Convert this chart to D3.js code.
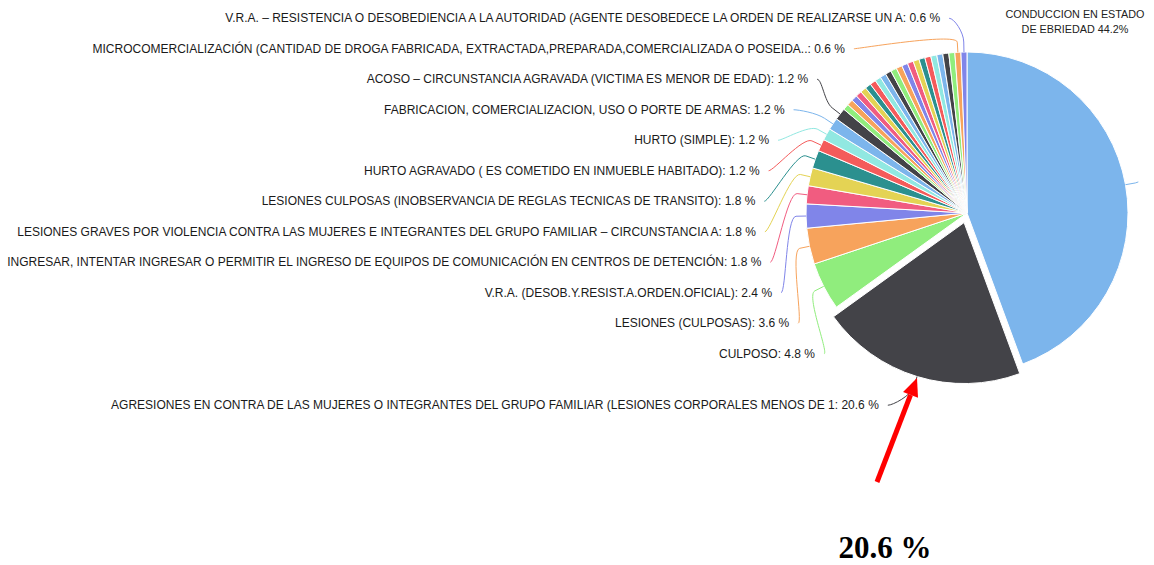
<!DOCTYPE html>
<html>
<head>
<meta charset="utf-8">
<script src="https://cdn.jsdelivr.net/npm/d3@7"></script>
<style>
  body { margin: 0; background: #fff; }
  svg { display: block; }
</style>
</head>
<body>
<svg width="1154" height="565"></svg>
<script>
// slice names, in pie order (clockwise from 12 o'clock); "" = label not shown
var names = [
  "CONDUCCION EN ESTADO DE EBRIEDAD",
  "AGRESIONES EN CONTRA DE LAS MUJERES O INTEGRANTES DEL GRUPO FAMILIAR (LESIONES CORPORALES MENOS DE 1",
  "CULPOSO",
  "LESIONES (CULPOSAS)",
  "V.R.A. (DESOB.Y.RESIST.A.ORDEN.OFICIAL)",
  "INGRESAR, INTENTAR INGRESAR O PERMITIR EL INGRESO DE EQUIPOS DE COMUNICACIÓN EN CENTROS DE DETENCIÓN",
  "LESIONES GRAVES POR VIOLENCIA CONTRA LAS MUJERES E INTEGRANTES DEL GRUPO FAMILIAR – CIRCUNSTANCIA A",
  "LESIONES CULPOSAS (INOBSERVANCIA DE REGLAS TECNICAS DE TRANSITO)",
  "HURTO AGRAVADO ( ES COMETIDO EN INMUEBLE HABITADO)",
  "HURTO (SIMPLE)",
  "FABRICACION, COMERCIALIZACION, USO O PORTE DE ARMAS",
  "ACOSO – CIRCUNSTANCIA AGRAVADA (VICTIMA ES MENOR DE EDAD)",
  "", "", "", "", "", "", "", "", "", "", "",
  "", "", "", "", "", "", "", "", "", "",
  "MICROCOMERCIALIZACIÓN (CANTIDAD DE DROGA FABRICADA, EXTRACTADA,PREPARADA,COMERCIALIZADA O POSEIDA..",
  "V.R.A. – RESISTENCIA O DESOBEDIENCIA A LA AUTORIDAD (AGENTE DESOBEDECE LA ORDEN DE REALIZARSE UN A"
];

// percentages
var values = [
  44.2, 20.6, 4.8, 3.6, 2.4, 1.8, 1.8, 1.8, 1.2, 1.2, 1.2, 1.2,
  0.6, 0.6, 0.6, 0.6, 0.6, 0.6, 0.6, 0.6, 0.6, 0.6, 0.6,
  0.6, 0.6, 0.6, 0.6, 0.6, 0.6, 0.6, 0.6, 0.6, 0.6,
  0.6, 0.6
];

var palette = ["#7cb5ec", "#434348", "#90ed7d", "#f7a35c", "#8085e9",
               "#f15c80", "#e4d354", "#2b908f", "#f45b5b", "#91e8e1"];

var slicedIndex = 1;
var annotationTitle = ["CONDUCCION EN ESTADO", "DE EBRIEDAD 44.2%"];
var highlightText = "20.6 %";

var svg = d3.select("svg"),
    width = +svg.attr("width"),
    height = +svg.attr("height");

var cx = 967, cy = 213, radius = 161,
    slicedOffset = 10,
    labelDistance = 30,
    labelHeight = 30.5,
    labelCircle = 195;

var color = d3.scaleOrdinal()
    .domain(d3.range(values.length))
    .range(palette);

var fmt = d3.format(".1f");

var arcs = d3.pie()
    .sort(null)
    .value(function(d) { return d; })(values);

arcs.forEach(function(a, i) {
  a.index = i;
  a.mid = (a.startAngle + a.endAngle) / 2;
  var off = i === slicedIndex ? slicedOffset : 0;
  a.ox = cx + Math.sin(a.mid) * off;
  a.oy = cy - Math.cos(a.mid) * off;
});

function pointAt(a, r) {
  return [a.ox + Math.sin(a.mid) * r, a.oy - Math.cos(a.mid) * r];
}

var arc = d3.arc()
    .innerRadius(0)
    .outerRadius(radius);

// slices
svg.append("g")
  .selectAll("path")
  .data(arcs)
  .enter().append("path")
    .attr("transform", function(d) { return "translate(" + d.ox + "," + d.oy + ")"; })
    .attr("d", arc)
    .attr("fill", function(d) { return color(d.index); })
    .attr("stroke", "#fff")
    .attr("stroke-width", 1)
    .attr("stroke-linejoin", "round");

// left side labels, spread out so they don't overlap
var boxes = arcs.filter(function(a) { return a.index > 0 && names[a.index] !== ""; })
  .map(function(a) {
    return { arc: a, target: a.oy - Math.cos(a.mid) * (radius + labelDistance) };
  })
  .sort(function(a, b) { return a.target - b.target; });

var minY = 3, maxY = height;
var groups = [];
boxes.forEach(function(b) {
  groups.push({ items: [b] });
  while (true) {
    var g = groups[groups.length - 1];
    var n = g.items.length;
    var mean = d3.mean(g.items, function(d) { return d.target; });
    g.top = Math.max(minY, Math.min(maxY - n * labelHeight, mean - n * labelHeight / 2));
    var prev = groups[groups.length - 2];
    if (prev && prev.top + prev.items.length * labelHeight > g.top) {
      prev.items = prev.items.concat(g.items);
      groups.pop();
    } else break;
  }
});
groups.forEach(function(g) {
  g.items.forEach(function(b, i) {
    b.y = g.top + i * labelHeight + labelHeight / 2;
    var dy = b.y - b.arc.oy;
    b.x = b.arc.ox - 8 - Math.sqrt(Math.max(0, labelCircle * labelCircle - dy * dy));
  });
});

var labels = svg.append("g");

labels.selectAll("path")
  .data(boxes)
  .enter().append("path")
    .attr("fill", "none")
    .attr("stroke", function(d) { return color(d.arc.index); })
    .attr("stroke-width", 1)
    .attr("d", function(d) {
      var edge = pointAt(d.arc, radius),
          brk = pointAt(d.arc, radius + 10);
      return "M" + d.x + "," + d.y +
        "C" + (d.x + 5) + "," + d.y + " " +
        (2 * brk[0] - edge[0]) + "," + (2 * brk[1] - edge[1]) + " " +
        brk[0] + "," + brk[1] +
        "L" + edge[0] + "," + edge[1];
    });

labels.selectAll("text")
  .data(boxes)
  .enter().append("text")
    .attr("x", function(d) { return d.x - 9; })
    .attr("y", function(d) { return d.y; })
    .attr("dy", "0.35em")
    .attr("text-anchor", "end")
    .attr("font-family", "Liberation Sans, Arial, sans-serif")
    .attr("font-size", 12)
    .attr("fill", "#1a1a1a")
    .text(function(d) { return names[d.arc.index] + ": " + fmt(values[d.arc.index]) + " %"; });

// stub connector of the big slice (its label was replaced by the note at the top right)
var big = arcs[0],
    e0 = pointAt(big, radius),
    e1 = pointAt(big, radius + 10);
svg.append("path")
    .attr("fill", "none")
    .attr("stroke", color(0))
    .attr("d", "M" + e0[0] + "," + e0[1] + "L" + e1[0] + "," + e1[1] + "L" + (e1[0] + 3) + "," + (e1[1] - 1));

svg.append("g")
  .selectAll("text")
  .data(annotationTitle)
  .enter().append("text")
    .attr("x", 1075)
    .attr("y", function(d, i) { return 14 + i * 15; })
    .attr("dy", "0.35em")
    .attr("text-anchor", "middle")
    .attr("font-family", "Liberation Sans, Arial, sans-serif")
    .attr("font-size", 10.8)
    .attr("fill", "#222")
    .text(function(d) { return d; });

// red arrow pointing at the sliced piece
var tail = [877, 482], tip = [917, 378];
var ang = Math.atan2(tip[1] - tail[1], tip[0] - tail[0]);
var headLen = 18, headW = 8;
var base = [tip[0] - Math.cos(ang) * headLen, tip[1] - Math.sin(ang) * headLen];
svg.append("line")
    .attr("x1", tail[0]).attr("y1", tail[1])
    .attr("x2", base[0]).attr("y2", base[1])
    .attr("stroke", "#ff0000")
    .attr("stroke-width", 5);
svg.append("path")
    .attr("fill", "#ff0000")
    .attr("d", "M" + tip[0] + "," + tip[1] +
      "L" + (base[0] + Math.sin(ang) * headW) + "," + (base[1] - Math.cos(ang) * headW) +
      "L" + (base[0] - Math.sin(ang) * headW) + "," + (base[1] + Math.cos(ang) * headW) + "Z");

svg.append("text")
    .attr("x", 885)
    .attr("y", 558)
    .attr("text-anchor", "middle")
    .attr("font-family", "Liberation Serif, Times New Roman, serif")
    .attr("font-weight", "bold")
    .attr("font-size", 31)
    .attr("fill", "#000")
    .text(highlightText);
</script>
</body>
</html>
